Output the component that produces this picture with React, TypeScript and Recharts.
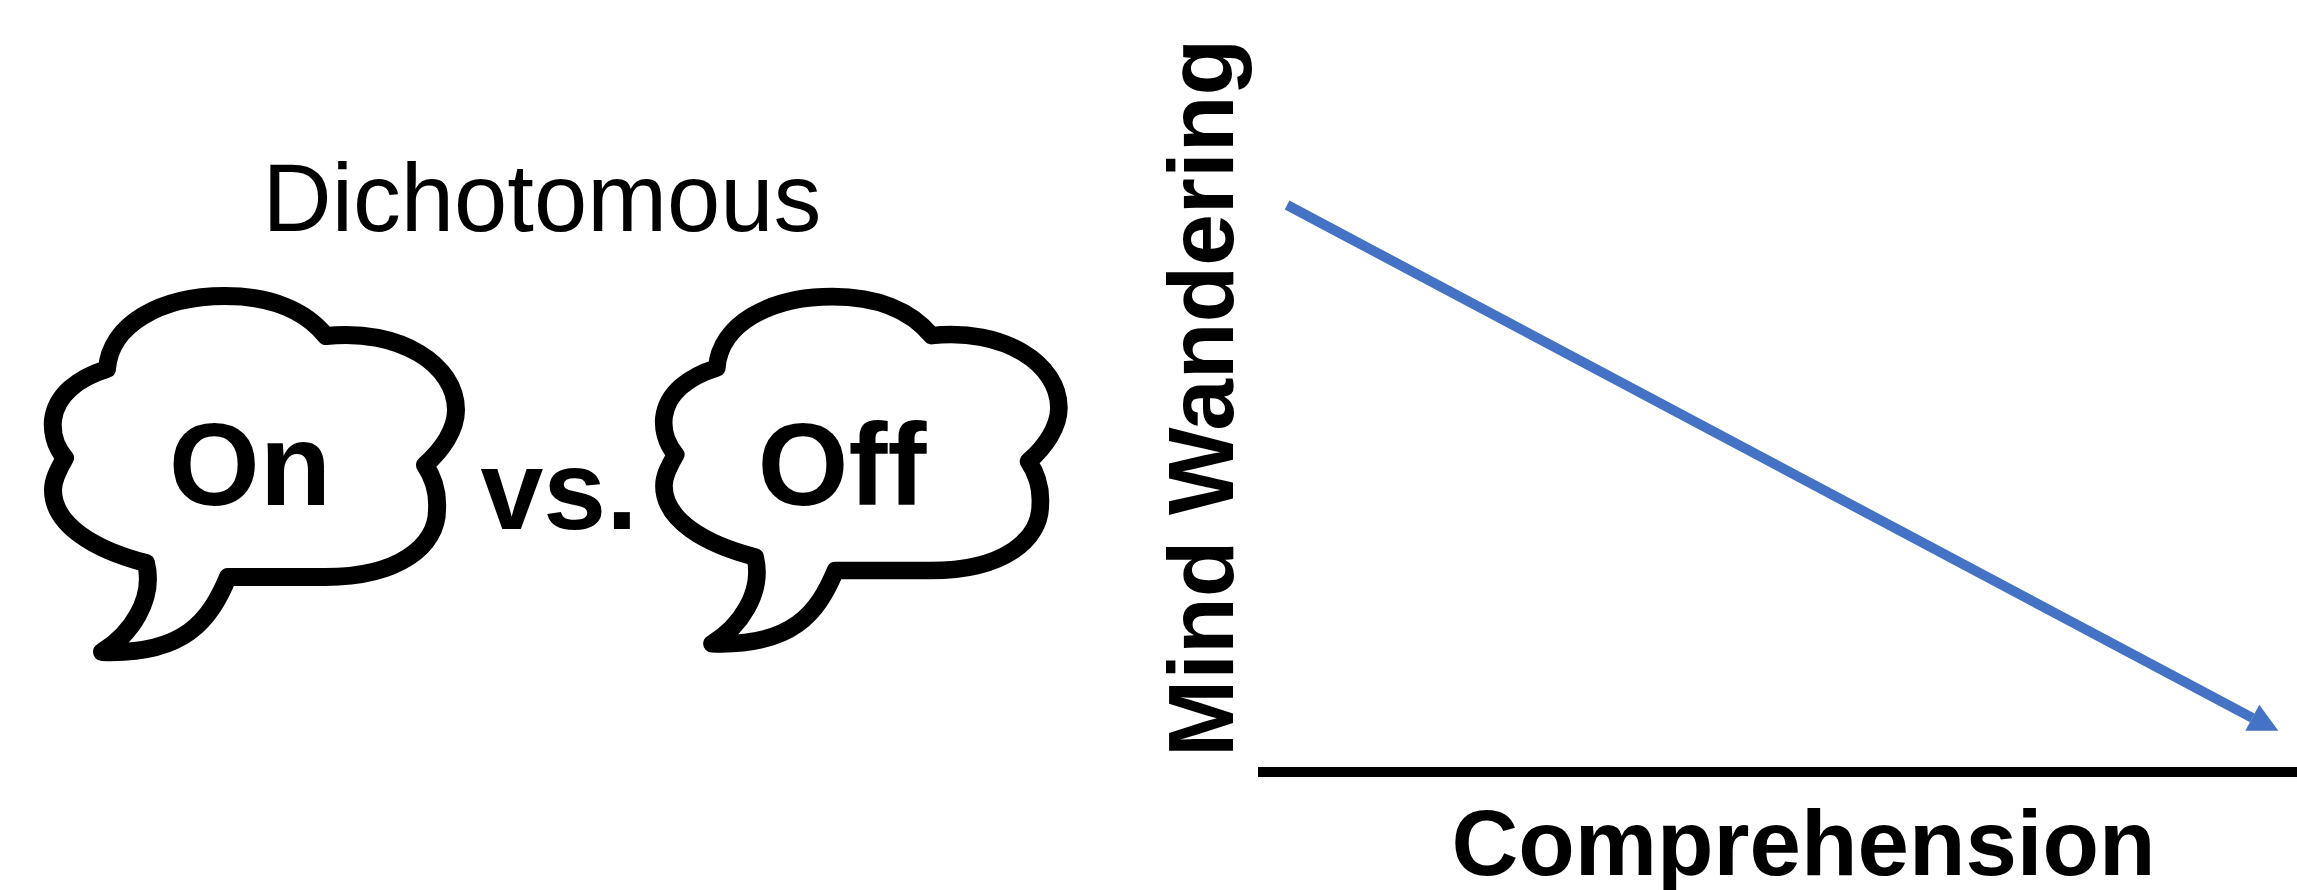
import { LineChart, Line, XAxis, YAxis } from 'recharts';

const comprehension = [2.8, 95.7];
const mindWandering = [75.4, 7.2];
const chartData = comprehension.map((c, i) => ({ comprehension: c, mindWandering: mindWandering[i] }));

const BLUE = '#4472C4';
const FONT = '"Liberation Sans", Arial, sans-serif';

// speech bubble outline, traced from the left one
const CLOUD_PATH =
  'M107 369 C110 325 160 296 225 296 C270 296 305 310 326 336 C400 328 456 365 456 410 ' +
  'C456 430 442 450 425 465 C435 480 438 495 437 510 C437 545 400 577 325 577 L228 577 ' +
  'C210 620 185 655 102 652 C130 635 155 600 146 563 C95 550 53 525 53 490 ' +
  'C53 480 58 470 65 458 C54 445 52 430 53 420 C56 395 78 378 107 369 Z';

function Cloud({ transform }: { transform?: string }) {
  return (
    <path
      d={CLOUD_PATH}
      transform={transform}
      fill="#fff"
      stroke="#000"
      strokeWidth={18}
      strokeLinejoin="round"
    />
  );
}

function ArrowDot(props: any) {
  const { cx, cy, index } = props;
  if (index !== chartData.length - 1) return <g key="start" />;
  return (
    <polygon
      key="arrow"
      points={`${cx + 26},${cy + 13} ${cx - 7},${cy + 13} ${cx + 7},${cy - 13}`}
      fill={BLUE}
    />
  );
}

const boldText = { fontFamily: FONT, fontWeight: 700, fill: '#000' };

export default function App() {
  return (
    <div style={{ position: 'absolute', left: 0, top: 0, width: 2297, height: 890, background: '#fff' }}>
      <LineChart
        width={2297}
        height={890}
        data={chartData}
        margin={{ top: 20, right: 0, bottom: 0, left: 1258 }}
      >
        <XAxis
          type="number"
          dataKey="comprehension"
          domain={[0, 100]}
          height={118}
          tick={false}
          tickLine={false}
          axisLine={{ stroke: '#000', strokeWidth: 10 }}
          label={{
            value: 'Comprehension',
            position: 'insideBottom',
            offset: 15,
            dx: 26,
            style: { ...boldText, fontSize: 92.5 },
          }}
        />
        <YAxis type="number" domain={[0, 100]} hide />
        <Line
          dataKey="mindWandering"
          stroke={BLUE}
          strokeWidth={10}
          dot={ArrowDot}
          activeDot={false}
          isAnimationActive={false}
        />

        <text x={542} y={231} textAnchor="middle" fontFamily={FONT} fontSize={95.8} fill="#000">
          Dichotomous
        </text>
        <Cloud />
        <Cloud transform="translate(612 8) scale(0.98 0.975)" />
        <text x={250} y={505} textAnchor="middle" fontSize={117} style={boldText}>
          On
        </text>
        <text x={842} y={505} textAnchor="middle" fontSize={117} style={boldText}>
          Off
        </text>
        <text x={559} y={529} textAnchor="middle" fontSize={113} style={boldText}>
          vs.
        </text>
        <text
          transform="translate(1233 398) rotate(-90)"
          textAnchor="middle"
          fontSize={92.8}
          style={boldText}
        >
          Mind Wandering
        </text>
      </LineChart>
    </div>
  );
}
